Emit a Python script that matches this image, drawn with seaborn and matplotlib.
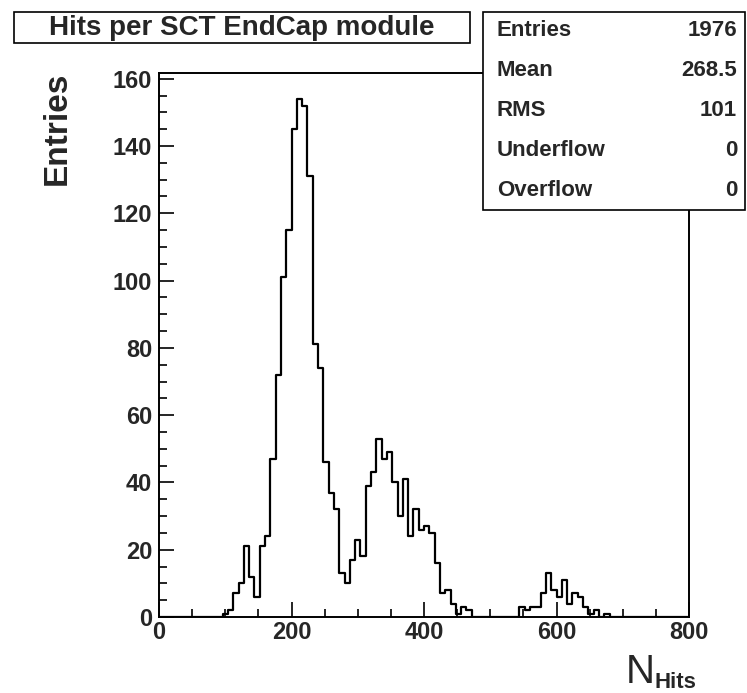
import numpy as np
import pandas as pd
import matplotlib.pyplot as plt
from matplotlib.patches import Rectangle
from matplotlib.ticker import MultipleLocator
import seaborn as sns

# Histogram of hits per module: 100 bins of width 8 from 0 to 800
bin_width = 8
x_min, x_max = 0, 800
counts = [
    0, 0, 0, 0, 0, 0, 0, 0, 0, 0,
    0, 0, 1, 2, 7, 10, 21, 12, 6, 21,
    24, 47, 72, 101, 115, 145, 154, 152, 131, 81,
    74, 46, 37, 32, 13, 10, 17, 23, 18, 39,
    43, 53, 47, 49, 40, 30, 41, 24, 32, 26,
    27, 25, 16, 7, 8, 4, 1, 3, 2, 0,
    0, 0, 0, 0, 0, 0, 0, 0, 3, 2,
    3, 3, 7, 13, 8, 6, 11, 4, 7, 6,
    3, 1, 2, 0, 1, 0, 0, 0, 0, 0,
    0, 0, 0, 0, 0, 0, 0, 0, 0, 0,
]

stat_names = ["Entries", "Mean", "RMS", "Underflow", "Overflow"]
stat_values = ["1976", "268.5", "101", "0", "0"]

centers = np.arange(x_min, x_max, bin_width) + bin_width / 2
df = pd.DataFrame({"nhits": centers, "n": counts})

sns.set_style("white")
plt.rcParams["font.family"] = ["Liberation Sans", "DejaVu Sans"]

W, H = 747, 693
fig = plt.figure(figsize=(W / 100, H / 100), dpi=100)
ax = fig.add_axes([159 / W, 1 - 617 / H, 530 / W, 544 / H])

sns.histplot(data=df, x="nhits", weights="n", binwidth=bin_width,
             binrange=(x_min, x_max), element="step", fill=False,
             color="black", linewidth=1.6, ax=ax)

ax.set_xlim(x_min, x_max)
ax.set_ylim(0, max(counts) * 1.05)
ax.xaxis.set_major_locator(MultipleLocator(200))
ax.xaxis.set_minor_locator(MultipleLocator(50))
ax.yaxis.set_major_locator(MultipleLocator(20))
ax.yaxis.set_minor_locator(MultipleLocator(5))
ax.tick_params(which="both", direction="in", color="black", width=1.2,
               bottom=True, left=True, top=False, right=False)
ax.tick_params(which="major", length=11, labelsize=17)
ax.tick_params(which="minor", length=5.5)
ax.tick_params(axis="x", pad=3)
ax.tick_params(axis="y", pad=5)
for lab in ax.get_xticklabels() + ax.get_yticklabels():
    lab.set_fontweight("bold")
for sp in ax.spines.values():
    sp.set_color("black")
    sp.set_linewidth(1.4)
ax.set_xlabel("")
ax.set_ylabel("")

# axis titles, ROOT style at the end of each axis
fig.text(57 / W, 1 - 72 / H, "Entries", rotation=90, ha="center", va="top",
         fontsize=24, fontweight="bold")
fig.text(626 / W, 1 - 683 / H, "N", ha="left", va="baseline", fontsize=29)
fig.text(655 / W, 1 - 688 / H, "Hits", ha="left", va="baseline",
         fontsize=16, fontweight="bold")

# title box
fig.patches.append(Rectangle((14 / W, 1 - 43 / H), 456 / W, 31 / H,
                             transform=fig.transFigure, facecolor="white",
                             edgecolor="black", linewidth=1.2, zorder=3))
fig.text(242 / W, 1 - 28 / H, "Hits per SCT EndCap module", ha="center",
         va="center", fontsize=20, fontweight="bold", zorder=4)

# statistics box
fig.patches.append(Rectangle((483 / W, 1 - 210 / H), 262 / W, 198 / H,
                             transform=fig.transFigure, facecolor="white",
                             edgecolor="black", linewidth=1.2, zorder=3))
for i, (name, val) in enumerate(zip(stat_names, stat_values)):
    y = 1 - (31 + 40 * i) / H
    fig.text(497 / W, y, name, ha="left", va="center", fontsize=16,
             fontweight="bold", zorder=4)
    fig.text(737 / W, y, val, ha="right", va="center", fontsize=16,
             fontweight="bold", zorder=4)

fig.savefig("out.png", dpi=100, facecolor="white")
